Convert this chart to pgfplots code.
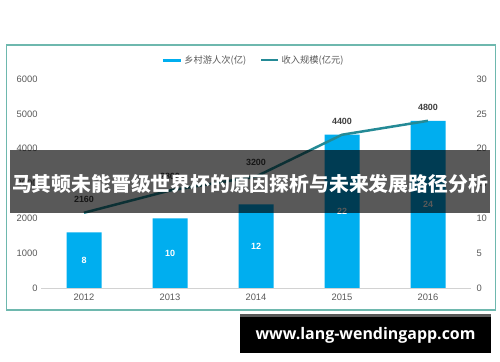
\documentclass[border=0pt]{standalone}
\usepackage{pgfplots}
\pgfplotsset{compat=1.18}
\usepackage{fontspec}
\setmainfont{Liberation Sans}
\newfontfamily\cjk{Noto Sans CJK SC}
\newfontfamily\wm{Open Sans}
\definecolor{barblue}{RGB}{0,174,239}
\definecolor{linet}{RGB}{36,138,150}
\definecolor{framec}{RGB}{110,184,174}
\definecolor{ticktext}{RGB}{89,89,89}
\definecolor{labeltext}{RGB}{64,64,64}
\definecolor{axisgray}{RGB}{210,210,210}
\begin{document}
\begin{tikzpicture}
\useasboundingbox (0,0) rectangle (500bp,362bp);
\fill[white] (0,0) rectangle (500bp,362bp);
\draw[framec,line width=1.5bp] (6.5bp,52bp) rectangle (495.5bp,317bp);
% bars: right axis
\begin{axis}[
  at={(41bp,74bp)}, anchor=south west, scale only axis,
  width=430bp, height=209bp,
  xmin=-0.5, xmax=4.5, ymin=0, ymax=30,
  axis y line*=right, axis x line=none,
  y axis line style={draw=none},
  ytick={0,5,...,30},
  major tick length=0pt,
  yticklabel style={font=\fontsize{9.4}{10}\selectfont, text=ticktext, xshift=2bp},
  /pgf/number format/assume math mode=true,
  ybar, bar width=35bp,
]
\addplot[fill=barblue, draw=none,
  visualization depends on={rawy \as \rawy},
  nodes near coords,
  every node near coord/.append style={anchor=center, font=\bfseries\fontsize{9}{10}\selectfont, text=white,
    shift={(axis direction cs:0,-\rawy/2)}}]
  coordinates {(0,8) (1,10) (2,12) (3,22) (4,24)};
\end{axis}
% line: left axis
\begin{axis}[
  at={(41bp,74bp)}, anchor=south west, scale only axis,
  width=430bp, height=209bp,
  xmin=-0.5, xmax=4.5, ymin=0, ymax=6000,
  axis y line*=left, axis x line*=bottom,
  x axis line style={-, draw=axisgray, line width=0.8bp},
  y axis line style={draw=none},
  xtick={0,1,2,3,4}, xticklabels={2012,2013,2014,2015,2016},
  ytick={0,1000,...,6000},
  major tick length=0pt,
  tick label style={font=\fontsize{9.4}{10}\selectfont, text=ticktext},
  xticklabel style={yshift=-2bp},
  scaled y ticks=false,
  /pgf/number format/1000 sep={},
  /pgf/number format/assume math mode=true,
  legend columns=2,
  legend cell align=left,
  legend style={at={(0.494,1.09)}, anchor=center, draw=none, fill=none,
    font=\cjk\fontsize{9.3}{10}\selectfont, text=ticktext, inner sep=0pt,
    /tikz/every even column/.append style={column sep=12bp}},
]
\addlegendimage{legend image code/.code={\draw[barblue,line width=3bp] (0bp,0bp) -- (18bp,0bp);}}
\addlegendentry{乡村游人次(亿)}
\addplot[linet, line width=2.5bp, mark=none,
  nodes near coords,
  every node near coord/.append style={anchor=south, yshift=6bp, font=\bfseries\fontsize{9}{10}\selectfont, text=labeltext}]
  coordinates {(0,2160) (1,2800) (2,3200) (3,4400) (4,4800)};
\addlegendentry{收入规模(亿元)}
\end{axis}
% overlay banner
\fill[black,opacity=0.65] (10bp,149bp) rectangle (490bp,212bp);
\node[white, inner sep=0pt] at (250bp,178bp) {\cjk\bfseries\fontsize{19.9}{22}\selectfont 马其顿未能晋级世界杯的原因探析与未来发展路径分析};
% watermark
\fill[black] (240bp,9bp) rectangle (491bp,45bp);
\fill[black!65] (240bp,45bp) rectangle (491bp,47.5bp);
\node[white, inner sep=0pt] at (365.5bp,27bp) {\wm\bfseries\fontsize{16}{18}\selectfont www.lang-wendingapp.com};
\end{tikzpicture}
\end{document}
